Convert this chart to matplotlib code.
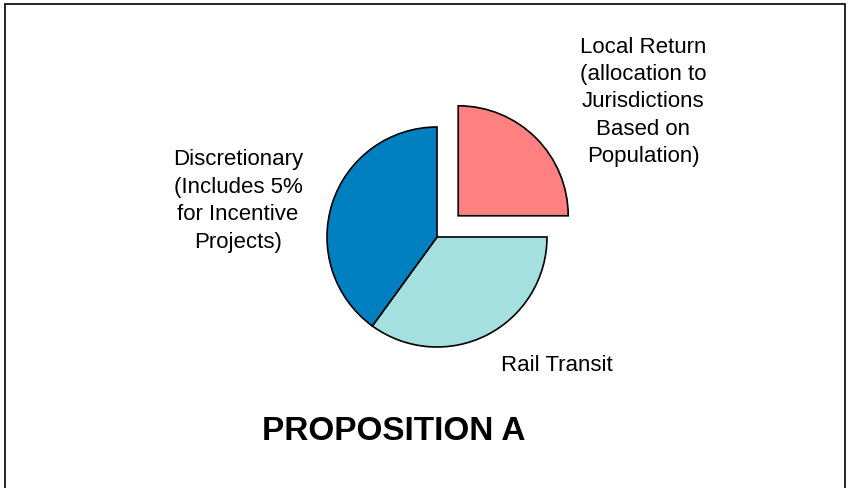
import matplotlib
matplotlib.use('Agg')
import matplotlib.pyplot as plt
from matplotlib.patches import Rectangle

plt.rcParams['font.family'] = ['Liberation Sans', 'DejaVu Sans']

labels = ['Local Return\n(allocation to\nJurisdictions\nBased on\nPopulation)',
          'Rail Transit',
          'Discretionary\n(Includes 5%\nfor Incentive\nProjects)']
shares = [25, 35, 40]
colors = ['#FF8080', '#A4E0E0', '#0080C0']
explode = [30, 0, 0]
title = 'PROPOSITION A'


def main():
    fig = plt.figure(figsize=(8.48, 4.89), dpi=100)
    ax = fig.add_axes([0, 0, 1, 1])

    # frame around the slide
    ax.add_patch(Rectangle((5, -20), 840, 504, fill=False, edgecolor='black', linewidth=1.2))

    ax.pie(shares, colors=colors, explode=explode, startangle=90, counterclock=False,
           radius=110, center=(437, 251), frame=True,
           wedgeprops=dict(edgecolor='black', linewidth=1.2))
    ax.set_xlim(0, 848)
    ax.set_ylim(0, 489)
    ax.set_aspect('equal')
    ax.axis('off')

    ax.text(643, 387, labels[0], ha='center', va='center', multialignment='center',
            fontsize=16, linespacing=1.4)
    ax.text(557, 123, labels[1], ha='center', va='center', fontsize=16)
    ax.text(238, 288, labels[2], ha='center', va='center', multialignment='center',
            fontsize=16, linespacing=1.4)
    ax.text(394, 57, title, ha='center', va='center', fontsize=24, fontweight='bold')

    fig.savefig('out.png', dpi=100)


main()
